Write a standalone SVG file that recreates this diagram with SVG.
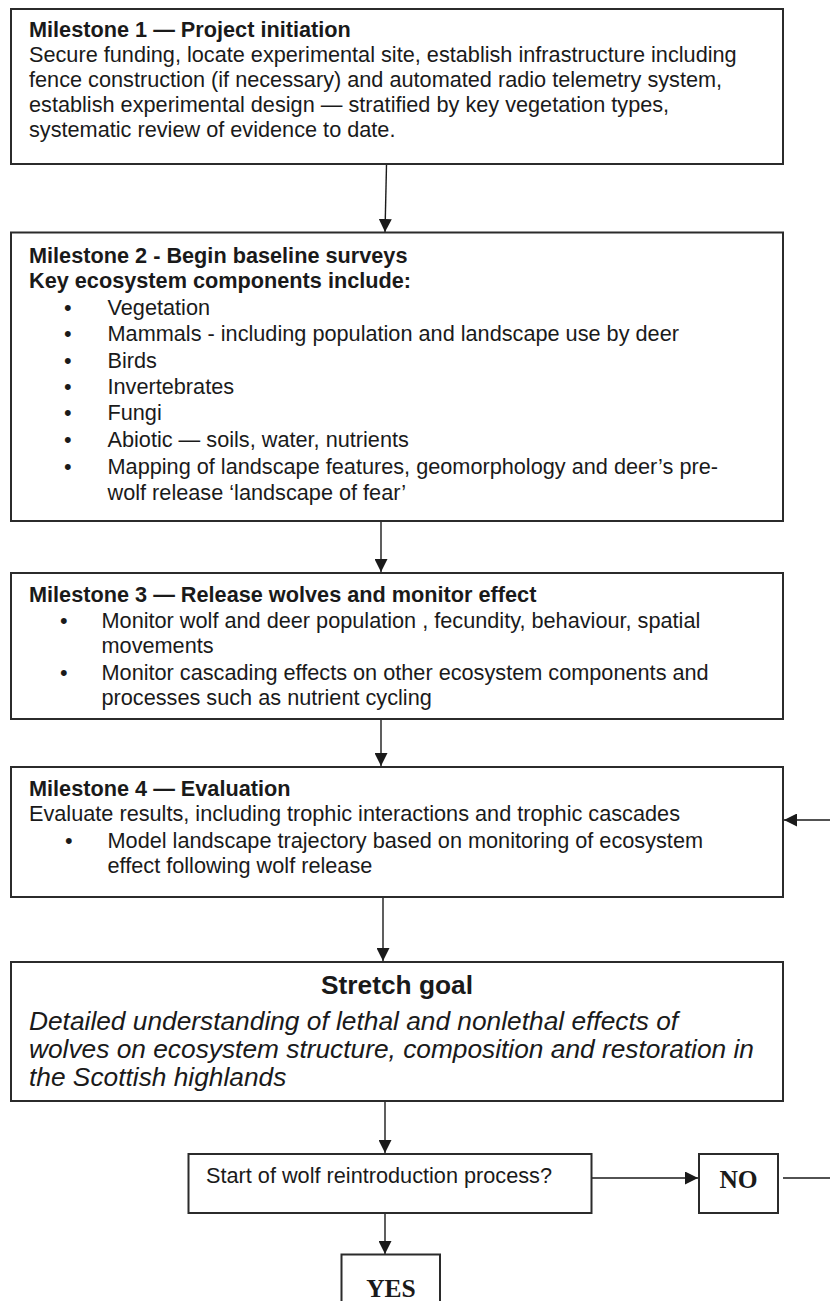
<svg xmlns="http://www.w3.org/2000/svg" width="830" height="1301" viewBox="0 0 830 1301">
<style>
.box{fill:#fff;stroke:#2b2b2b;stroke-width:2}
.t{font-family:"Liberation Sans",Arial,sans-serif;font-size:21.7px;fill:#1a1a1a}
.b{font-weight:bold}
.it{font-style:italic;font-size:26.3px}
.sg{font-weight:bold;font-size:26.3px;text-anchor:middle}
.tn{font-family:"Liberation Serif","Times New Roman",serif;font-weight:bold;font-size:25.5px;fill:#1a1a1a;text-anchor:middle}
.c{fill:none;stroke:#1a1a1a;stroke-width:1.4}
</style>
<defs>
<marker id="ah" markerUnits="userSpaceOnUse" markerWidth="14" markerHeight="13" refX="13" refY="6.5" orient="auto">
<path d="M0,0 L13,6.5 L0,13 z" fill="#1a1a1a"/>
</marker>
</defs>
<rect width="830" height="1301" fill="#fff"/>
<g id="connectors">
<path class="c" d="M386.5,165 L385,232" marker-end="url(#ah)"/>
<path class="c" d="M381,521 V572" marker-end="url(#ah)"/>
<path class="c" d="M381,719 V766" marker-end="url(#ah)"/>
<path class="c" d="M383,897 V961" marker-end="url(#ah)"/>
<path class="c" d="M385,1101 V1153" marker-end="url(#ah)"/>
<path class="c" d="M385,1213 V1254" marker-end="url(#ah)"/>
<path class="c" d="M592,1178 H698" marker-end="url(#ah)"/>
<path class="c" d="M783,1178 H850 V820 H784" marker-end="url(#ah)"/>
</g>
<g id="m1">
<rect class="box" x="11" y="9" width="772" height="155"/>
<text class="t b" x="29" y="37">Milestone 1 — Project initiation</text>
<text class="t" x="29" y="62">Secure funding, locate experimental site, establish infrastructure including</text>
<text class="t" x="29" y="87">fence construction (if necessary) and automated radio telemetry system,</text>
<text class="t" x="29" y="112">establish experimental design — stratified by key vegetation types,</text>
<text class="t" x="29" y="137">systematic review of evidence to date.</text>
</g>
<g id="m2">
<rect class="box" x="11" y="232.5" width="772" height="288.5"/>
<text class="t b" x="29" y="263">Milestone 2 - Begin baseline surveys</text>
<text class="t b" x="29" y="288">Key ecosystem components include:</text>
<text class="t" x="64" y="315">•</text><text class="t" x="107.5" y="315">Vegetation</text>
<text class="t" x="64" y="341">•</text><text class="t" x="107.5" y="341">Mammals - including population and landscape use by deer</text>
<text class="t" x="64" y="367.5">•</text><text class="t" x="107.5" y="367.5">Birds</text>
<text class="t" x="64" y="394">•</text><text class="t" x="107.5" y="394">Invertebrates</text>
<text class="t" x="64" y="420">•</text><text class="t" x="107.5" y="420">Fungi</text>
<text class="t" x="64" y="446.5">•</text><text class="t" x="107.5" y="446.5">Abiotic — soils, water, nutrients</text>
<text class="t" x="64" y="474">•</text><text class="t" x="107.5" y="474">Mapping of landscape features, geomorphology and deer’s pre-</text>
<text class="t" x="107.5" y="499.5">wolf release ‘landscape of fear’</text>
</g>
<g id="m3">
<rect class="box" x="11" y="573" width="772" height="146"/>
<text class="t b" x="29" y="601.5">Milestone 3 — Release wolves and monitor effect</text>
<text class="t" x="60" y="628">•</text><text class="t" x="101.5" y="628">Monitor wolf and deer population , fecundity, behaviour, spatial</text>
<text class="t" x="101.5" y="653">movements</text>
<text class="t" x="60" y="680">•</text><text class="t" x="101.5" y="680">Monitor cascading effects on other ecosystem components and</text>
<text class="t" x="101.5" y="705">processes such as nutrient cycling</text>
</g>
<g id="m4">
<rect class="box" x="11" y="767" width="772" height="130"/>
<text class="t b" x="29" y="796">Milestone 4 — Evaluation</text>
<text class="t" x="29" y="821">Evaluate results, including trophic interactions and trophic cascades</text>
<text class="t" x="65" y="848">•</text><text class="t" x="107.5" y="848">Model landscape trajectory based on monitoring of ecosystem</text>
<text class="t" x="107.5" y="873">effect following wolf release</text>
</g>
<g id="stretch">
<rect class="box" x="11" y="962" width="772" height="139"/>
<text class="t sg" x="397" y="994">Stretch goal</text>
<text class="t it" x="29" y="1030">Detailed understanding of lethal and nonlethal effects of</text>
<text class="t it" x="29" y="1058">wolves on ecosystem structure, composition and restoration in</text>
<text class="t it" x="29" y="1086">the Scottish highlands</text>
</g>
<g id="question">
<rect class="box" x="188.5" y="1154" width="403" height="59"/>
<text class="t" x="206" y="1183">Start of wolf reintroduction process?</text>
</g>
<g id="no">
<rect class="box" x="699" y="1154" width="79" height="59"/>
<text class="tn" x="738.5" y="1187.5">NO</text>
</g>
<g id="yes">
<rect class="box" x="341.5" y="1254.5" width="98.5" height="60"/>
<text class="tn" x="391" y="1297">YES</text>
</g>
</svg>
